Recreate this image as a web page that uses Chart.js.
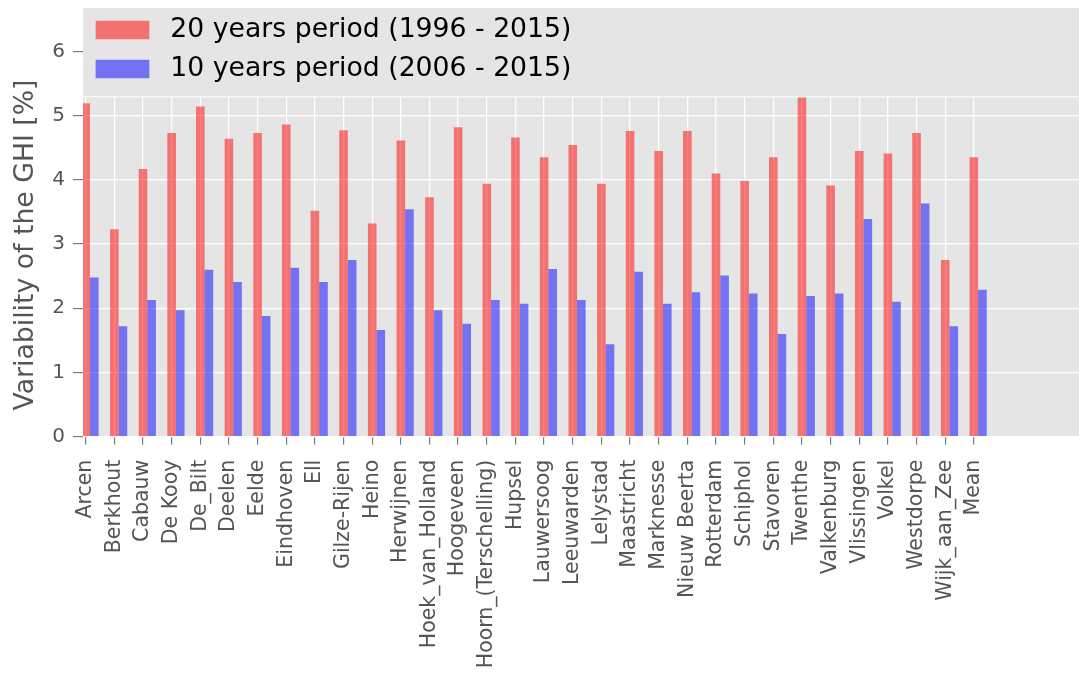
<!DOCTYPE html>
<html>
<head>
<meta charset="utf-8">
<script src="https://cdn.jsdelivr.net/npm/chart.js@4.4.0/dist/chart.umd.min.js"></script>
<style>
  html, body { margin: 0; padding: 0; background: #ffffff; }
  #wrap { width: 1079px; height: 682px; position: relative; }
</style>
</head>
<body>
<div id="wrap"><canvas id="chart"></canvas></div>
<script>
// Stations (plus the overall mean) and the GHI variability for both periods, in %
const stations = ['Arcen', 'Berkhout', 'Cabauw', 'De Kooy', 'De_Bilt', 'Deelen', 'Eelde', 'Eindhoven',
  'Ell', 'Gilze-Rijen', 'Heino', 'Herwijnen', 'Hoek_van_Holland', 'Hoogeveen', 'Hoorn_(Terschelling)',
  'Hupsel', 'Lauwersoog', 'Leeuwarden', 'Lelystad', 'Maastricht', 'Marknesse', 'Nieuw Beerta',
  'Rotterdam', 'Schiphol', 'Stavoren', 'Twenthe', 'Valkenburg', 'Vlissingen', 'Volkel', 'Westdorpe',
  'Wijk_aan_Zee', 'Mean'];
const ghi20 = [5.19, 3.23, 4.17, 4.73, 5.14, 4.64, 4.73, 4.86, 3.52, 4.77, 3.32, 4.61, 3.73, 4.82, 3.94,
  4.66, 4.35, 4.54, 3.94, 4.76, 4.45, 4.76, 4.10, 3.98, 4.35, 5.34, 3.91, 4.45, 4.41, 4.73, 2.75, 4.35];
const ghi10 = [2.48, 1.72, 2.13, 1.97, 2.60, 2.41, 1.88, 2.63, 2.41, 2.75, 1.66, 3.54, 1.97, 1.76, 2.13,
  2.07, 2.61, 2.13, 1.44, 2.57, 2.07, 2.25, 2.51, 2.23, 1.60, 2.19, 2.23, 3.39, 2.10, 3.63, 1.72, 2.29];
const yTicks = [0, 1, 2, 3, 4, 5, 6];
const seriesNames = ['20 years period (1996 - 2015)', '10 years period (2006 - 2015)'];
const yTitle = 'Variability of the GHI [%]';

// Styling
const PLOT_BG = '#e5e5e5';
const TEXT_GREY = '#555555';
const FONT = 'DejaVu Sans';
const BAR_W = 0.3;          // width of one bar in category units
const LEGEND_H = 88.7;      // height of the legend strip across the top of the plot

const plotBackground = {
  id: 'plotBackground',
  afterLayout(chart) {
    // keep the in-plot legend aligned with the plot area
    const a = chart.chartArea;
    if (chart.legend) {
      chart.legend.top = a.top;
      chart.legend.bottom = a.bottom;
    }
  },
  beforeDraw(chart) {
    const { ctx, chartArea: a } = chart;
    ctx.save();
    ctx.fillStyle = PLOT_BG;
    ctx.fillRect(a.left, a.top, a.right - a.left, a.bottom - a.top);
    ctx.restore();
  }
};

// The legend sits in an opaque strip above the bars
const legendStrip = {
  id: 'legendStrip',
  afterDatasetsDraw(chart) {
    const { ctx, chartArea: a } = chart;
    ctx.save();
    ctx.fillStyle = PLOT_BG;
    ctx.fillRect(a.left, a.top, a.right - a.left, LEGEND_H);
    ctx.strokeStyle = '#f6f6f6';
    ctx.lineWidth = 1.6;
    ctx.beginPath();
    ctx.moveTo(a.left, a.top + LEGEND_H);
    ctx.lineTo(a.right, a.top + LEGEND_H);
    ctx.stroke();
    ctx.restore();
    chart.legend.draw();
  }
};

const yAxisTitle = {
  id: 'yAxisTitle',
  afterDraw(chart) {
    const { ctx } = chart;
    ctx.save();
    ctx.translate(33, 245);
    ctx.rotate(-Math.PI / 2);
    ctx.font = '26.7px "' + FONT + '"';
    ctx.fillStyle = TEXT_GREY;
    ctx.textAlign = 'center';
    ctx.textBaseline = 'alphabetic';
    ctx.fillText(yTitle, 0, 0);
    ctx.restore();
  }
};

const colors = ['rgba(255,0,0,0.5)', 'rgba(0,0,255,0.5)'];

new Chart(document.getElementById('chart'), {
  type: 'bar',
  data: {
    datasets: [ghi20, ghi10].map((vals, k) => ({
      label: seriesNames[k],
      data: vals.map((v, i) => ({ x: i, y: v })),
      backgroundColor: colors[k],
      borderWidth: 0,
      categoryPercentage: 2 * BAR_W,
      barPercentage: 1.0
    }))
  },
  options: {
    responsive: true,
    maintainAspectRatio: false,
    animation: false,
    devicePixelRatio: 1,
    layout: { padding: { top: 8, left: 0, right: 0, bottom: 0 } },
    plugins: {
      tooltip: { enabled: false },
      legend: {
        position: 'chartArea',
        align: 'start',
        labels: {
          font: { family: FONT, size: 26.7 },
          color: '#1e1e1e',
          boxWidth: 69,
          boxHeight: 34,
          padding: 5,
          generateLabels(chart) {
            return chart.data.datasets.map((ds, i) => ({
              text: ds.label,
              fillStyle: ds.backgroundColor,
              strokeStyle: PLOT_BG,
              lineWidth: 15.3,
              hidden: false,
              datasetIndex: i
            }));
          }
        }
      }
    },
    scales: {
      x: {
        type: 'linear',
        offset: false,
        min: -BAR_W / 2 - 0.094,
        max: 34.52,
        afterBuildTicks(scale) {
          // one tick under the centre of each station's first bar
          scale.ticks = stations.map((_, i) => ({ value: i - BAR_W / 2 }));
        },
        afterFit(scale) {
          scale.height = 245.3;
          scale.paddingLeft = 0;
          scale.paddingRight = 0;
        },
        border: { display: false },
        grid: { offset: false, color: '#ffffff', lineWidth: 1.3, tickColor: '#666666', tickLength: 8, tickWidth: 1 },
        ticks: {
          autoSkip: false,
          minRotation: 90,
          maxRotation: 90,
          padding: 15,
          color: TEXT_GREY,
          font: { family: FONT, size: 20.5 },
          callback: (value, index) => stations[index]
        }
      },
      y: {
        min: 0,
        max: 6.675,
        afterBuildTicks(scale) {
          scale.ticks = yTicks.map(v => ({ value: v }));
        },
        afterFit(scale) {
          scale.width = 83;
          scale.paddingTop = 0;
          scale.paddingBottom = 0;
        },
        border: { display: false },
        grid: { color: '#ffffff', lineWidth: 1.3, tickColor: '#666666', tickLength: 10, tickWidth: 1 },
        ticks: {
          padding: 8,
          color: TEXT_GREY,
          font: { family: FONT, size: 20 },
          callback: v => String(v)
        }
      }
    }
  },
  plugins: [plotBackground, legendStrip, yAxisTitle]
});
</script>
</body>
</html>
